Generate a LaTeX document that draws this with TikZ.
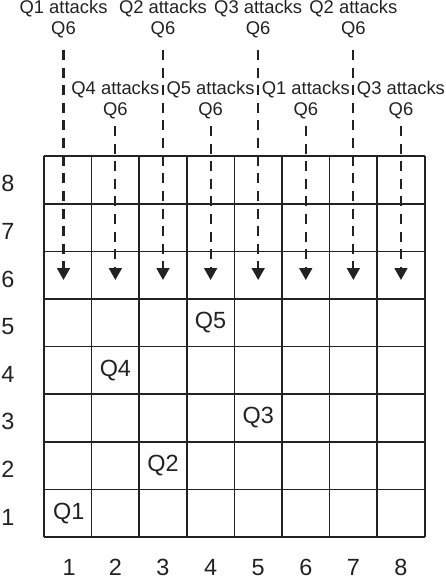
\documentclass[tikz,border=0pt]{standalone}
\usepackage{fontspec}
\setmainfont{Liberation Sans}
\usetikzlibrary{arrows.meta}

\definecolor{ink}{HTML}{222222}

\begin{document}
\begin{tikzpicture}[scale=1,
    board/.style={draw=ink, line width=1pt},
    num/.style={text=ink, inner sep=0pt, font=\fontsize{14}{16}\selectfont},
    queen/.style={text=ink, inner sep=0pt, font=\fontsize{14}{16}\selectfont},
    attack/.style={text=ink, inner sep=0pt, align=center, font=\fontsize{11}{12.5}\selectfont},
    hit/.style={draw=ink, line width=1.2pt, dash pattern=on 0.21cm off 0.16cm,
        -{Triangle[width=0.27cm,length=0.25cm]}}]
    \useasboundingbox (-0.924,-0.882) rectangle (8.445,11.282);

    % Draw the board
    \draw[board] (0,0) grid (8,8);

    % Label rows
    \node[num] (r1) at (-0.76,0.42) {1};
    \node[num] (r2) at (-0.76,1.42) {2};
    \node[num] (r3) at (-0.76,2.42) {3};
    \node[num] (r4) at (-0.76,3.42) {4};
    \node[num] (r5) at (-0.76,4.42) {5};
    \node[num] (r6) at (-0.76,5.42) {6};
    \node[num] (r7) at (-0.76,6.42) {7};
    \node[num] (r8) at (-0.76,7.42) {8};

    % Label columns
    \node[num] (c1) at (0.53,-0.64) {1};
    \node[num] (c2) at (1.5,-0.64) {2};
    \node[num] (c3) at (2.5,-0.64) {3};
    \node[num] (c4) at (3.5,-0.64) {4};
    \node[num] (c5) at (4.5,-0.64) {5};
    \node[num] (c6) at (5.5,-0.64) {6};
    \node[num] (c7) at (6.5,-0.64) {7};
    \node[num] (c8) at (7.5,-0.64) {8};

    % Place the queens
    \node[queen] (q1) at (0.52,0.5) {Q1};
    \node[queen] (q2) at (2.5,1.5) {Q2};
    \node[queen] (q3) at (4.5,2.5) {Q3};
    \node[queen] (q4) at (1.5,3.5) {Q4};
    \node[queen] (q5) at (3.5,4.5) {Q5};

    % Attack labels
    \node[attack] (a1) at (0.41,10.875) {Q1 attacks\\Q6};
    \node[attack] (a2) at (1.5,9.18) {Q4 attacks\\Q6};
    \node[attack] (a3) at (2.5,10.875) {Q2 attacks\\Q6};
    \node[attack] (a4) at (3.5,9.18) {Q5 attacks\\Q6};
    \node[attack] (a5) at (4.5,10.875) {Q3 attacks\\Q6};
    \node[attack] (a6) at (5.5,9.18) {Q1 attacks\\Q6};
    \node[attack] (a7) at (6.5,10.875) {Q2 attacks\\Q6};
    \node[attack] (a8) at (7.5,9.18) {Q3 attacks\\Q6};

    % Targets in row 6
    \coordinate (t1) at (0.41,5.4);
    \coordinate (t2) at (1.5,5.4);
    \coordinate (t3) at (2.5,5.4);
    \coordinate (t4) at (3.5,5.4);
    \coordinate (t5) at (4.5,5.4);
    \coordinate (t6) at (5.5,5.4);
    \coordinate (t7) at (6.5,5.4);
    \coordinate (t8) at (7.5,5.4);

    % Draw the attacks
    \draw[hit, shorten <=0.24cm] (a1) -- (t1);
    \draw[hit, shorten <=0.14cm] (a2) -- (t2);
    \draw[hit, shorten <=0.24cm] (a3) -- (t3);
    \draw[hit, shorten <=0.14cm] (a4) -- (t4);
    \draw[hit, shorten <=0.24cm] (a5) -- (t5);
    \draw[hit, shorten <=0.14cm] (a6) -- (t6);
    \draw[hit, shorten <=0.24cm] (a7) -- (t7);
    \draw[hit, shorten <=0.14cm] (a8) -- (t8);
\end{tikzpicture}
\end{document}
